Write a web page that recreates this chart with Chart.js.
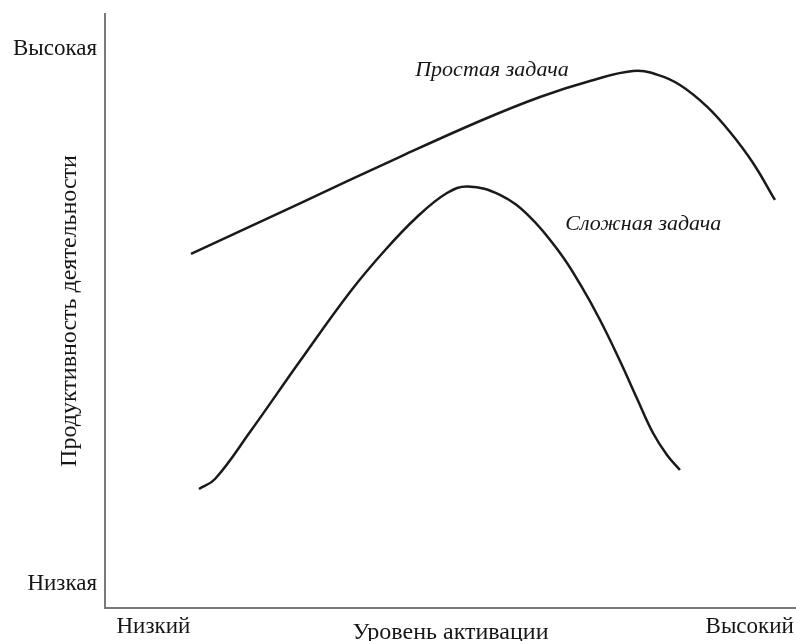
<!DOCTYPE html>
<html>
<head>
<meta charset="utf-8">
<script src="https://cdn.jsdelivr.net/npm/chart.js@4"></script>
<style>
  html, body { margin: 0; padding: 0; background: #fff; }
  #wrap { width: 796px; height: 641px; }
</style>
</head>
<body>
<div id="wrap"><canvas id="c" width="796" height="641"></canvas></div>
<script>
// Data (arbitrary units 0..100)
const simpleX = [12.45, 28.22, 42.69, 54.27, 62.95, 70.19, 76.41, 79.88, 83.21, 87.12, 90.45, 93.78, 96.96];
const simpleY = [59.60, 68.13, 75.96, 81.99, 86.03, 88.72, 90.40, 89.80, 88.05, 84.41, 80.13, 74.92, 68.69];
const complexX = [13.60, 15.92, 20.98, 28.22, 35.46, 40.23, 45.15, 49.49, 52.53, 57.16, 61.51, 65.85, 68.74, 71.64, 74.53, 76.99, 79.31, 81.33, 83.21];
const complexY = [20.03, 21.72, 29.63, 41.58, 53.20, 59.85, 65.82, 69.87, 70.96, 69.53, 65.82, 59.76, 54.55, 48.48, 41.58, 35.27, 29.46, 25.76, 23.23];

const xTickValues = [7.0, 93.3];
const xTickLabels = ['Низкий', 'Высокий'];
const yTickValues = [4.0, 94.1];
const yTickLabels = ['Низкая', 'Высокая'];

const xTitle = 'Уровень активации';
const yTitle = 'Продуктивность деятельности';

const seriesLabels = ['Простая задача', 'Сложная задача'];
const labelPos = [[56.0, 90.6], [77.9, 64.6]];

const toPts = (xs, ys) => xs.map((x, i) => ({x, y: ys[i]}));

const SERIF = '"Liberation Serif", "DejaVu Serif", serif';
const TEXT = '#161616';
const AXIS = '#7a7a7a';

const annot = {
  id: 'annot',
  afterDatasetsDraw(chart) {
    const {ctx, scales: {x, y}} = chart;
    ctx.save();
    ctx.fillStyle = TEXT;
    ctx.font = 'italic 22px ' + SERIF;
    ctx.textAlign = 'center';
    ctx.textBaseline = 'middle';
    seriesLabels.forEach((t, i) => {
      ctx.fillText(t, x.getPixelForValue(labelPos[i][0]), y.getPixelForValue(labelPos[i][1]));
    });
    ctx.restore();
  }
};

new Chart(document.getElementById('c'), {
  type: 'line',
  data: {
    datasets: [
      { label: seriesLabels[0], data: toPts(simpleX, simpleY), borderColor: '#1a1a1a', borderWidth: 2.5, pointRadius: 0, tension: 0.4, fill: false },
      { label: seriesLabels[1], data: toPts(complexX, complexY), borderColor: '#1a1a1a', borderWidth: 2.5, pointRadius: 0, tension: 0.4, fill: false }
    ]
  },
  options: {
    responsive: false,
    animation: false,
    events: [],
    layout: { padding: { top: 14, right: 0, left: 0, bottom: 0 } },
    plugins: { legend: { display: false }, tooltip: { enabled: false } },
    scales: {
      x: {
        type: 'linear', min: 0, max: 100,
        grid: { display: false, drawTicks: false },
        border: { display: true, color: AXIS, width: 2 },
        afterBuildTicks: s => { s.ticks = xTickValues.map(v => ({value: v})); },
        afterFit: s => { s.height = 33; s.paddingLeft = 0; s.paddingRight = 0; },
        ticks: {
          autoSkip: false, maxRotation: 0, padding: 5, color: TEXT,
          font: { family: SERIF, size: 23 },
          callback: (v, i) => xTickLabels[i]
        },
        title: { display: true, text: xTitle, color: TEXT, font: { family: SERIF, size: 24, lineHeight: 1 }, padding: { top: 0, bottom: -4 } }
      },
      y: {
        type: 'linear', min: 0, max: 100,
        grid: { display: false, drawTicks: false },
        border: { display: true, color: AXIS, width: 2 },
        afterBuildTicks: s => { s.ticks = yTickValues.map(v => ({value: v})); },
        afterFit: s => { s.width = 105; s.paddingTop = 0; s.paddingBottom = 0; },
        ticks: {
          autoSkip: false, padding: 8, color: TEXT,
          font: { family: SERIF, size: 23 },
          callback: (v, i) => yTickLabels[i]
        },
        title: { display: true, text: yTitle, color: TEXT, font: { family: SERIF, size: 24, lineHeight: 1 }, padding: { top: 58, bottom: 0 } }
      }
    }
  },
  plugins: [annot]
});
</script>
</body>
</html>
